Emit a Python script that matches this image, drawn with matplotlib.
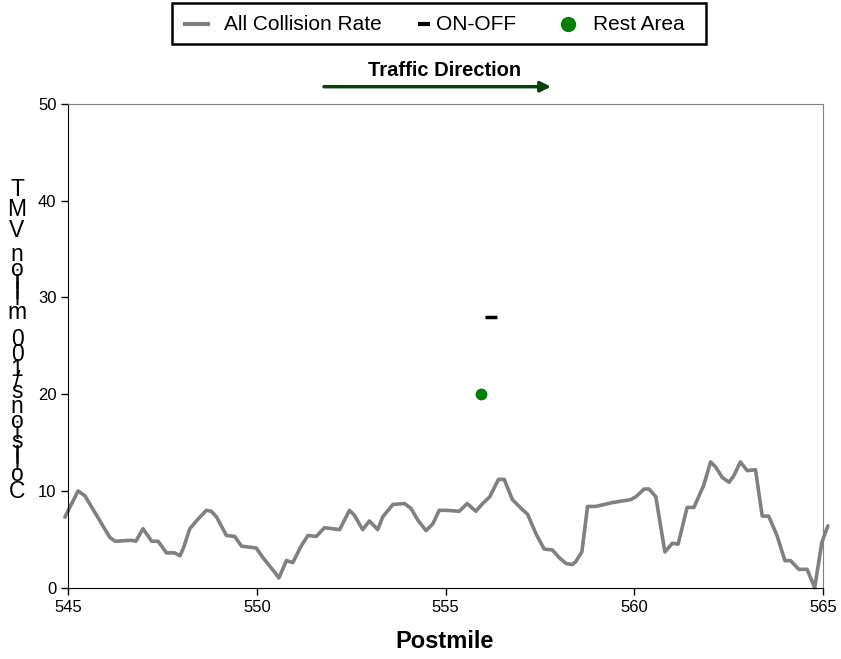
import matplotlib
matplotlib.use("Agg")
import matplotlib.pyplot as plt
from matplotlib.lines import Line2D
from matplotlib.patches import Rectangle
from matplotlib.font_manager import FontProperties
from matplotlib.textpath import TextToPath

plt.rcParams['font.family'] = ['Liberation Sans', 'DejaVu Sans']

# All collision rate along the route
postmile = [544.91, 545.26, 545.44, 546.10, 546.24, 546.68, 546.79, 546.98, 547.21, 547.38,
            547.60, 547.82, 547.96, 548.06, 548.22, 548.44, 548.66, 548.79, 548.93, 549.19,
            549.41, 549.59, 549.98, 550.16, 550.47, 550.58, 550.78, 550.95, 551.17, 551.35,
            551.57, 551.79, 552.19, 552.45, 552.58, 552.80, 552.98, 553.20, 553.33, 553.60,
            553.91, 554.08, 554.26, 554.48, 554.66, 554.83, 555.01, 555.36, 555.57, 555.80,
            555.98, 556.17, 556.40, 556.55, 556.77, 557.00, 557.17, 557.39, 557.61, 557.83,
            558.01, 558.19, 558.36, 558.45, 558.61, 558.76, 558.98, 559.42, 559.90, 560.04,
            560.26, 560.39, 560.57, 560.70, 560.81, 561.01, 561.16, 561.40, 561.58, 561.84,
            562.02, 562.15, 562.33, 562.51, 562.64, 562.81, 562.99, 563.21, 563.39, 563.56,
            563.78, 563.99, 564.14, 564.36, 564.58, 564.78, 564.97, 565.13]
rate = [7.3, 10.0, 9.5, 5.2, 4.8, 4.9, 4.8, 6.1, 4.8, 4.8,
        3.6, 3.6, 3.3, 4.2, 6.1, 7.1, 8.0, 7.9, 7.3, 5.4,
        5.3, 4.3, 4.1, 3.1, 1.6, 1.0, 2.8, 2.6, 4.3, 5.4,
        5.3, 6.2, 6.0, 8.0, 7.5, 6.0, 6.9, 6.0, 7.3, 8.6,
        8.7, 8.2, 7.0, 5.9, 6.6, 8.0, 8.0, 7.9, 8.7, 7.9,
        8.7, 9.4, 11.2, 11.2, 9.1, 8.2, 7.6, 5.6, 4.0, 3.9,
        3.1, 2.5, 2.4, 2.7, 3.7, 8.4, 8.4, 8.8, 9.1, 9.4,
        10.2, 10.2, 9.4, 6.3, 3.7, 4.6, 4.5, 8.3, 8.3, 10.6,
        13.0, 12.5, 11.4, 10.9, 11.6, 13.0, 12.1, 12.2, 7.4, 7.4,
        5.4, 2.8, 2.8, 1.9, 1.9, 0.0, 4.7, 6.4]

onoff_pm = [556.21]
onoff_rate = [28.0]
rest_pm = [555.94]
rest_rate = [20.0]

x_ticks = [545, 550, 555, 560, 565]
y_ticks = [0, 10, 20, 30, 40, 50]
ylabel_text = "Collisions/100 million VMT"
legend_labels = ['All Collision Rate', 'ON-OFF', 'Rest Area']

W, H = 841, 659
fig = plt.figure(figsize=(W / 100, H / 100), dpi=100)
ax = fig.add_axes([68.3 / W, 1 - 587.7 / H, (823 - 68.3) / W, (587.7 - 104) / H])

ax.plot(postmile, rate, color='#808080', lw=2.6, clip_on=False,
        solid_joinstyle='round', solid_capstyle='round')
ax.plot(onoff_pm, onoff_rate, ls='none', marker='_', color='black', ms=8, mew=2.5)
ax.plot(rest_pm, rest_rate, ls='none', marker='o', color='#008000', ms=7.5, mec='#008000')

ax.set_xlim(545, 565)
ax.set_ylim(0, 50)
ax.set_xticks(x_ticks)
ax.set_yticks(y_ticks)
ax.tick_params(labelsize=12, length=5, width=1, direction='out')
for s in ['left', 'bottom']:
    ax.spines[s].set_color('black')
for s in ['top', 'right']:
    ax.spines[s].set_color('#808080')

fig.text(445 / W, 1 - 641 / H, 'Postmile', ha='center', va='center',
         fontsize=17, fontweight='bold')

# stacked y label, upright characters read bottom-to-top
fp = FontProperties(family='Liberation Sans', size=16.5)
ttp = TextToPath()
widths = []
for ch in ylabel_text:
    if ch == ' ':
        widths.append(ttp.get_text_width_height_descent('n', fp, ismath=False)[0] / 2)
    else:
        widths.append(ttp.get_text_width_height_descent(ch, fp, ismath=False)[0])
centers = []
acc = 0
for w in widths:
    centers.append(acc + w / 2)
    acc += w
y_bottom, y_top = 492, 190
scale = (y_bottom - y_top) / (centers[-1] - centers[0])
for ch, c in zip(ylabel_text, centers):
    if ch == ' ':
        continue
    ypx = y_bottom - (c - centers[0]) * scale
    fig.text(17 / W, 1 - ypx / H, ch, ha='center', va='center', fontsize=16.5)

# traffic direction arrow
fig.text(444.5 / W, 1 - 70 / H, 'Traffic Direction', ha='center', va='center',
         fontsize=14.5, fontweight='bold')
ax.annotate('', xy=(551 / W, 1 - 86.7 / H), xytext=(324 / W, 1 - 86.7 / H),
            xycoords='figure fraction', textcoords='figure fraction',
            arrowprops=dict(arrowstyle='-|>', color='#0a400a', lw=2.5,
                            mutation_scale=15, shrinkA=0, shrinkB=0))

# legend box drawn by hand so the spacing matches the original
def fx(px):
    return px / W

def fy(px):
    return 1 - px / H

fig.add_artist(Rectangle((fx(172), fy(44)), (706 - 172) / W, 41 / H, transform=fig.transFigure,
                         facecolor='white', edgecolor='black', lw=1.8))
ly = 24
fig.add_artist(Line2D([fx(185), fx(208)], [fy(ly), fy(ly)], transform=fig.transFigure,
                      color='#808080', lw=3))
fig.add_artist(Line2D([fx(424)], [fy(ly)], transform=fig.transFigure, ls='none',
                      marker='_', color='black', ms=8, mew=3))
fig.add_artist(Line2D([fx(568)], [fy(ly)], transform=fig.transFigure, ls='none',
                      marker='o', color='#008000', ms=10))
for x0, lab in zip([224, 436, 593], legend_labels):
    fig.text(fx(x0), fy(ly), lab, ha='left', va='center', fontsize=15)

fig.savefig('out.png', dpi=100)
